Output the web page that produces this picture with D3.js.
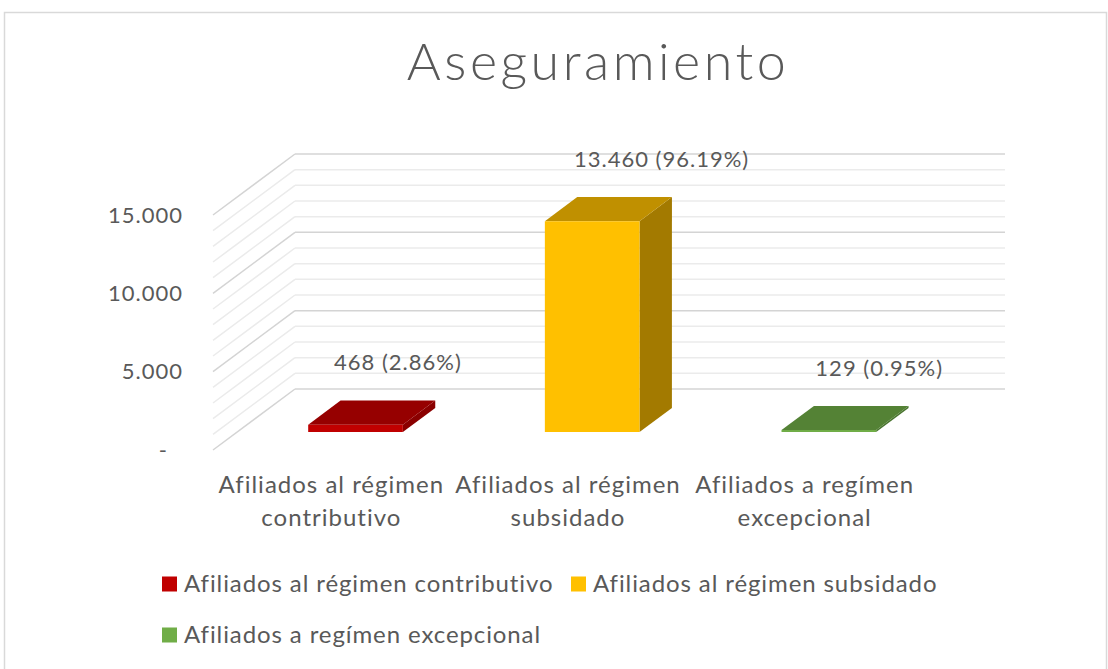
<!DOCTYPE html>
<html>
<head>
<meta charset="utf-8">
<script src="https://cdn.jsdelivr.net/npm/d3@7"></script>
<style>
  body { margin: 0; background: #fff; }
  text { font-family: Lato, "Noto Sans", sans-serif; fill: #595959; }
</style>
</head>
<body>
<script>
// chart data
var categories = ["Afiliados al régimen contributivo", "Afiliados al régimen subsidado", "Afiliados a regímen excepcional"];
var categoryLines = [["Afiliados al régimen", "contributivo"], ["Afiliados al régimen", "subsidado"], ["Afiliados a regímen", "excepcional"]];
var values = [468, 13460, 129];
var shares = ["2.86%", "96.19%", "0.95%"];
var yTicks = [0, 5000, 10000, 15000];
var minorStep = 1000;

// colours per series: front, top, side
var frontColors = ["#c00000", "#ffc000", "#70ad47"];
var topColors = ["#960000", "#c09000", "#548235"];
var sideColors = ["#8a0000", "#a37a00", "#4a7530"];

var width = 1108, height = 669;

var svg = d3.select("body").append("svg")
  .attr("width", width)
  .attr("height", height);

// chart border
svg.append("rect")
  .attr("x", 4.5).attr("y", 12.5)
  .attr("width", 1102).attr("height", 700)
  .style("fill", "none")
  .style("stroke", "#d9d9d9")
  .style("stroke-width", 1.5);

// title
svg.append("text")
  .attr("x", 598).attr("y", 80)
  .attr("text-anchor", "middle")
  .style("font-size", "52px")
  .style("font-weight", 300)
  .style("letter-spacing", "3.5px")
  .text("Aseguramiento");

// scales (front plane) + oblique depth
var x = d3.scaleBand().domain(categories).range([213, 923]);
var y = d3.scaleLinear().domain([0, 15000]).range([450, 215]);
var DX = 82, DY = -61;
function pt(px, v, z) { return [px + z * DX, y(v) + z * DY]; }

var fmt = d3.formatLocale({ decimal: ",", thousands: ".", grouping: [3], currency: ["$", ""] }).format(",d");

// gridlines: back wall + left side wall
var grid = svg.append("g");
var gridVals = d3.range(0, 15000 + 1, minorStep);
gridVals.forEach(function(v) {
  var major = v % 5000 === 0;
  var col = major ? "#d4d4d4" : "#ebebeb";
  var a = pt(213, v, 1), b = pt(923, v, 1), c = pt(213, v, 0);
  grid.append("line")
    .attr("x1", a[0]).attr("y1", a[1]).attr("x2", b[0]).attr("y2", b[1])
    .style("stroke", col).style("stroke-width", 1.5);
  grid.append("line")
    .attr("x1", a[0]).attr("y1", a[1]).attr("x2", c[0]).attr("y2", c[1])
    .style("stroke", col).style("stroke-width", 1.5);
});

// value axis labels
svg.append("g").selectAll("text")
  .data(yTicks)
  .enter().append("text")
  .attr("x", function(d) { return d === 0 ? 168 : 183; })
  .attr("y", function(d) { return y(d); })
  .attr("dy", "0.35em")
  .attr("text-anchor", "end")
  .style("font-size", "22px")
  .style("letter-spacing", "1px")
  .text(function(d) { return d === 0 ? "-" : fmt(d); });

// 3D bars
var z0 = 0.295, z1 = 0.69;
var barW = x.bandwidth() * 0.4;
var bars = svg.append("g");
function poly(pts) { return pts.map(function(p) { return p.join(","); }).join(" "); }

categories.forEach(function(c, i) {
  var xl = x(c) + (x.bandwidth() - barW) / 2, xr = xl + barW, v = values[i];
  var fbl = pt(xl, 0, z0), fbr = pt(xr, 0, z0), ftl = pt(xl, v, z0), ftr = pt(xr, v, z0);
  var bbr = pt(xr, 0, z1), btl = pt(xl, v, z1), btr = pt(xr, v, z1);
  bars.append("polygon").attr("points", poly([fbr, ftr, btr, bbr])).style("fill", sideColors[i]);
  bars.append("polygon").attr("points", poly([ftl, ftr, btr, btl])).style("fill", topColors[i]);
  bars.append("polygon").attr("points", poly([fbl, fbr, ftr, ftl])).style("fill", frontColors[i]);
});

// data labels
var labelNudge = [10, 37, 18];
svg.append("g").selectAll("text")
  .data(categories)
  .enter().append("text")
  .attr("x", function(d, i) { return x(d) + x.bandwidth() / 2 + z1 * DX + labelNudge[i]; })
  .attr("y", function(d, i) { return pt(0, values[i], z1)[1] - 38; })
  .attr("dy", "0.35em")
  .attr("text-anchor", "middle")
  .style("font-size", "22px")
  .style("letter-spacing", "1px")
  .text(function(d, i) { return fmt(values[i]) + " (" + shares[i] + ")"; });

// category labels
var cat = svg.append("g").selectAll("text")
  .data(categories)
  .enter().append("text")
  .attr("x", function(d) { return x(d) + x.bandwidth() / 2; })
  .attr("y", 493)
  .attr("text-anchor", "middle")
  .style("font-size", "24px")
  .style("letter-spacing", "1px");
cat.each(function(d, i) {
  var t = d3.select(this);
  categoryLines[i].forEach(function(line, k) {
    t.append("tspan")
      .attr("x", x(d) + x.bandwidth() / 2)
      .attr("dy", k === 0 ? 0 : 33)
      .text(line);
  });
});

// legend
var legendPos = [[162, 584], [571, 584], [162, 635]];
var leg = svg.append("g").selectAll("g")
  .data(categories)
  .enter().append("g")
  .attr("transform", function(d, i) { return "translate(" + legendPos[i][0] + "," + legendPos[i][1] + ")"; });
leg.append("rect")
  .attr("x", 0).attr("y", -7.5)
  .attr("width", 15).attr("height", 15)
  .style("fill", function(d, i) { return frontColors[i]; });
leg.append("text")
  .attr("x", 22).attr("y", 0)
  .attr("dy", "0.35em")
  .style("font-size", "24px")
  .style("letter-spacing", "0.9px")
  .text(function(d) { return d; });
</script>
</body>
</html>
